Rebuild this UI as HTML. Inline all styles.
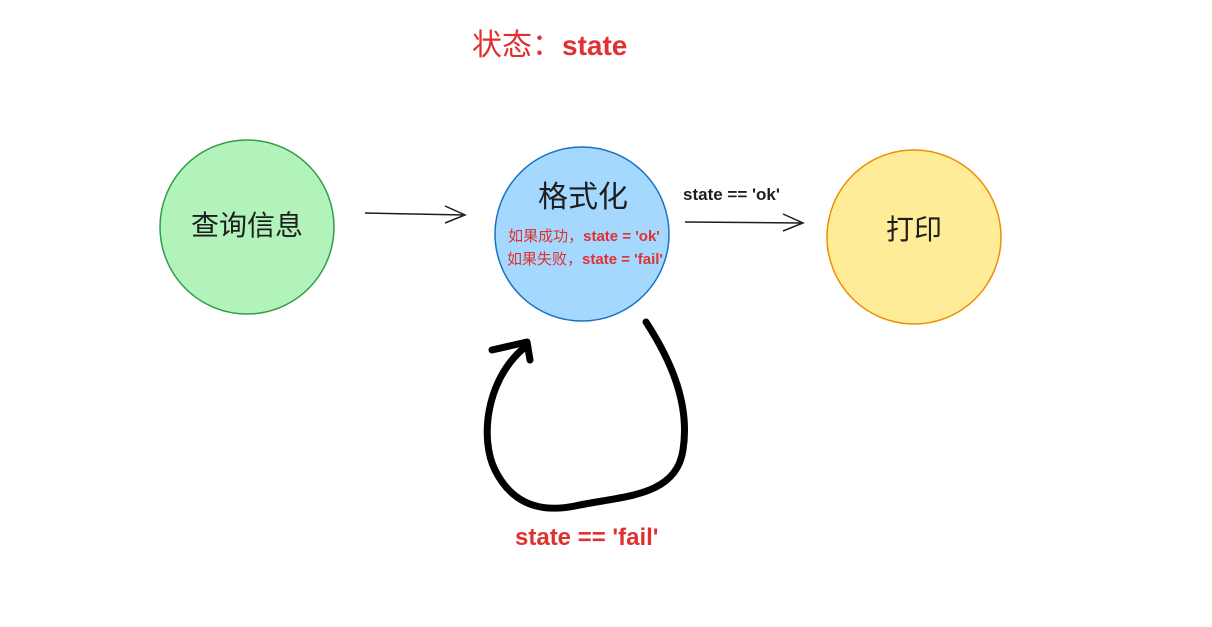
<!DOCTYPE html>
<html><head><meta charset="utf-8"><style>
body{margin:0;background:#fff;width:1212px;height:627px;overflow:hidden}
svg{display:block}
</style></head><body>
<svg width="1212" height="627" xmlns="http://www.w3.org/2000/svg" font-family="Liberation Sans, Noto Sans CJK SC, sans-serif">
<text x="472" y="55" font-size="30" fill="#e03131">状态：<tspan font-weight="bold" font-size="28">state</tspan></text>
<circle cx="247" cy="227" r="87" fill="#b2f2bb" stroke="#2f9e44" stroke-width="1.5"/>
<text x="247" y="235" font-size="28" text-anchor="middle" fill="#1e1e1e">查询信息</text>
<circle cx="582" cy="234" r="87" fill="#a5d8ff" stroke="#1971c2" stroke-width="1.5"/>
<text x="583" y="207" font-size="30" text-anchor="middle" fill="#1e1e1e">格式化</text>
<text x="584" y="241" font-size="15" text-anchor="middle" fill="#e03131">如果成功，<tspan font-weight="bold">state = 'ok'</tspan></text>
<text x="585" y="264" font-size="15" text-anchor="middle" fill="#e03131">如果失败，<tspan font-weight="bold">state = 'fail'</tspan></text>
<circle cx="914" cy="237" r="87" fill="#ffec99" stroke="#f08c00" stroke-width="1.5"/>
<text x="914" y="239" font-size="28" text-anchor="middle" fill="#1e1e1e">打印</text>
<g stroke="#1e1e1e" stroke-width="1.5" fill="none">
<path d="M365 213 L465 215 M445 206 L465 215 L445 223"/>
<path d="M685 222 L803 223 M783 214 L803 223 L783 231"/>
</g>
<text x="683" y="200" font-size="17" font-weight="bold" fill="#1e1e1e">state == 'ok'</text>
<g stroke="#000" stroke-width="7" fill="none" stroke-linecap="round" stroke-linejoin="round">
<path d="M646 322 C672 362 690 405 683 450 C676 498 620 496 575 506 C535 514 510 500 495 470 C480 440 485 380 525 347"/>
<path d="M492 350 L527 342 L530 360"/>
</g>
<text x="515" y="545" font-size="24" font-weight="bold" fill="#e03131">state == 'fail'</text>
</svg>
</body></html>
